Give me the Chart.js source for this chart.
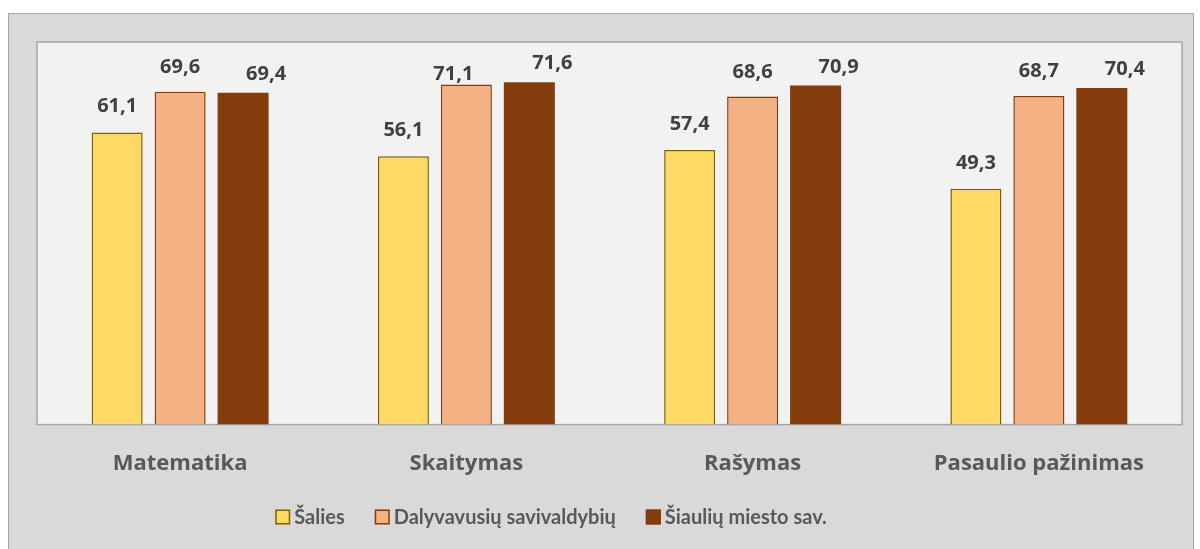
<!DOCTYPE html>
<html>
<head>
<meta charset="utf-8">
<script src="https://cdn.jsdelivr.net/npm/chart.js@4"></script>
<style>
  html, body { margin: 0; padding: 0; background: #ffffff; }
  #wrap {
    position: absolute; left: 8px; top: 13px;
    width: 1184px; height: 540px;
    border: 1px solid #a6a6a6; background: #d9d9d9;
  }
  canvas { display: block; }
</style>
</head>
<body>
<div id="wrap"><canvas id="chart" width="1184" height="540"></canvas></div>
<script>
// --- data ---
const categories = ['Matematika', 'Skaitymas', 'Rašymas', 'Pasaulio pažinimas'];
const seriesNames = ['Šalies', 'Dalyvavusių savivaldybių', 'Šiaulių miesto sav.'];
const salies = [61.1, 56.1, 57.4, 49.3];
const dalyvavusiu = [69.6, 71.1, 68.6, 68.7];
const siauliu = [69.4, 71.6, 70.9, 70.4];

const LEGEND_FONT = 'Lato, "Open Sans", sans-serif';
const AXIS_FONT = '"Open Sans", Lato, sans-serif';

// plot area background + frame
const plotBg = {
    id: 'plotBg',
    beforeDraw(chart) {
        const { ctx, chartArea: a } = chart;
        ctx.save();
        ctx.fillStyle = '#f2f2f2';
        ctx.fillRect(a.left, a.top, a.right - a.left, a.bottom - a.top);
        ctx.strokeStyle = '#a6a6a6';
        ctx.lineWidth = 1.5;
        ctx.strokeRect(a.left, a.top, a.right - a.left, a.bottom - a.top);
        ctx.restore();
    }
};

// value labels above bars (comma decimal), Excel-like placement
const valueLabels = {
    id: 'valueLabels',
    afterDatasetsDraw(chart) {
        const { ctx } = chart;
        ctx.save();
        ctx.font = 'bold 20px ' + AXIS_FONT;
        ctx.fillStyle = '#404040';
        ctx.textAlign = 'center';
        ctx.textBaseline = 'alphabetic';
        chart.data.datasets.forEach((ds, i) => {
            const meta = chart.getDatasetMeta(i);
            meta.data.forEach((bar, j) => {
                let dx = ds.labelDx || 0;
                let dy = ds.labelDy || 26;
                const ov = (ds.labelOverride || {})[j];
                if (ov) { dx = ov[0]; dy = ov[1]; }
                const txt = ds.data[j].toFixed(1).replace('.', ',');
                ctx.fillText(txt, bar.x + dx, bar.y - dy + 7);
            });
        });
        ctx.restore();
    }
};

// legend drawn like the Excel one (small square, tight gap)
const excelLegend = {
    id: 'excelLegend',
    afterDraw(chart) {
        const { ctx } = chart;
        const box = 15, gap = 4, spacing = 30, cx = 542, cy = 503;
        ctx.save();
        ctx.font = 'bold 20px ' + LEGEND_FONT;
        ctx.textBaseline = 'middle';
        const items = chart.data.datasets.map(ds => ({
            text: ds.label, fill: ds.backgroundColor, stroke: ds.borderColor,
            w: box + gap + ctx.measureText(ds.label).width
        }));
        const total = items.reduce((s, it) => s + it.w, 0) + spacing * (items.length - 1);
        let x = cx - total / 2;
        items.forEach(it => {
            ctx.fillStyle = it.fill;
            ctx.fillRect(x, cy - box / 2, box, box);
            ctx.strokeStyle = it.stroke;
            ctx.lineWidth = 1.5;
            ctx.strokeRect(x + 0.75, cy - box / 2 + 0.75, box - 1.5, box - 1.5);
            ctx.fillStyle = '#595959';
            ctx.textAlign = 'left';
            ctx.fillText(it.text, x + box + gap, cy + 1);
            x += it.w + spacing;
        });
        ctx.restore();
    }
};

new Chart(document.getElementById('chart'), {
    type: 'bar',
    data: {
        labels: categories,
        datasets: [
            {
                label: seriesNames[0],
                data: salies,
                backgroundColor: '#ffd966',
                borderColor: '#7f6000',
                borderWidth: 1.5,
                labelDy: 27
            },
            {
                label: seriesNames[1],
                data: dalyvavusiu,
                backgroundColor: '#f4b183',
                borderColor: '#843c0c',
                borderWidth: 1.5,
                labelDy: 26,
                labelOverride: { 1: [-13, 12] }
            },
            {
                label: seriesNames[2],
                data: siauliu,
                backgroundColor: '#843c0c',
                borderColor: '#843c0c',
                borderWidth: 0,
                labelDx: 23,
                labelDy: 20
            }
        ]
    },
    options: {
        responsive: false,
        animation: false,
        categoryPercentage: 0.66,
        barPercentage: 0.81,
        layout: { padding: { left: 28, right: 11, top: 28, bottom: 51 } },
        scales: {
            x: {
                grid: { display: false, drawTicks: false },
                border: { display: false },
                ticks: {
                    color: '#595959',
                    padding: 26,
                    font: { family: AXIS_FONT, size: 22, weight: 'bold' }
                }
            },
            y: {
                display: false,
                min: 0,
                max: 80
            }
        },
        plugins: {
            legend: { display: false },
            tooltip: { enabled: false }
        }
    },
    plugins: [plotBg, valueLabels, excelLegend]
});
</script>
</body>
</html>
